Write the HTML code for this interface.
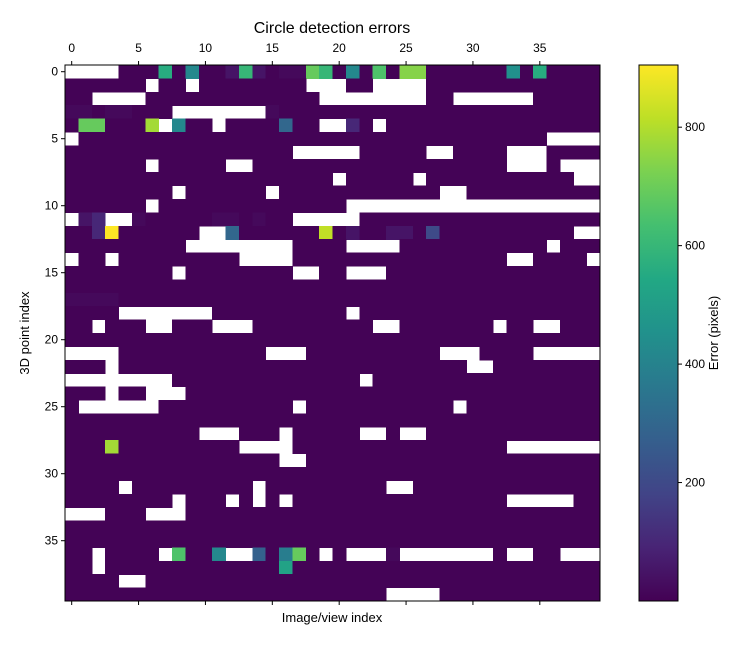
<!DOCTYPE html>
<html><head><meta charset="utf-8"><style>
html,body{margin:0;padding:0;background:#fff;}
svg text{font-family:"Liberation Sans",sans-serif;fill:#000;}
</style></head>
<body>
<svg id="chart" width="736" height="642" xmlns="http://www.w3.org/2000/svg">
<defs>
<linearGradient id="vir" x1="0" y1="1" x2="0" y2="0">
<stop offset="0" stop-color="#440154"/><stop offset="0.1" stop-color="#482475"/><stop offset="0.2" stop-color="#414487"/><stop offset="0.3" stop-color="#355f8d"/><stop offset="0.4" stop-color="#2a788e"/><stop offset="0.5" stop-color="#21918c"/><stop offset="0.6" stop-color="#22a884"/><stop offset="0.7" stop-color="#44bf70"/><stop offset="0.8" stop-color="#7ad151"/><stop offset="0.9" stop-color="#bddf26"/><stop offset="1" stop-color="#fde725"/>
</linearGradient>
</defs>
<text x="332" y="33" font-size="16" text-anchor="middle">Circle detection errors</text>
<g id="cells" shape-rendering="crispEdges"></g>
<rect x="65" y="65" width="535" height="536" fill="none" stroke="#000" stroke-width="1"/>
<g id="axes"></g>
<text x="332" y="622" font-size="13" text-anchor="middle">Image/view index</text>
<text x="29" y="333" font-size="13" text-anchor="middle" transform="rotate(-90 29 333)">3D point index</text>
<rect x="639" y="65" width="39" height="536" fill="url(#vir)" stroke="#000" stroke-width="1"/>
<g id="cbticks"></g>
<text x="718" y="333" font-size="13" text-anchor="middle" transform="rotate(-90 718 333)">Error (pixels)</text>
</svg>
<script>
// '.' = near-zero error, '#' = missing (NaN), letters = level codes
const levelCodes = ['.','a','b','c','d','e','f','g','h','i','j','k','l','m','n','o','p','q','r'];
const levelValues = [5,20,50,100,200,300,420,450,560,600,650,690,740,780,820,905,380,520,280];
const gridRows = [
"####...h.f..bib.aaki.f.j.ll......g.h....",
"......#..#........###..####.............",
"..####.............########..######.....",
"aa.aa...#######a........................",
".kk...m#f..#....e..##c.#................",
"#...................................####",
".................#####.....##....###....",
"......#.....##...................###.###",
"....................#.....#...........##",
"........#......#............##..........",
"......#..............###################",
"#bc##a.....aa.a..#####..................",
"..co......##e......n.b..bb.d..........##",
".........########....####...........#...",
"#..#.........####................##....#",
"........#........##..###................",
"........................................",
"aaaa....................................",
"....#######..........#..................",
"..#...##...###.........##.......#..##...",
"........................................",
"####...........###..........###....#####",
"...#..........................##........",
"########..............#.................",
"...#..###...............................",
".######..........#...........#..........",
"........................................",
"..........###...#.....##.##.............",
"...m.........####................#######",
"................##......................",
"........................................",
"....#.........#.........##..............",
"........#...#.#.#................#####..",
"###...###...............................",
"........................................",
"........................................",
"..#....#j..f##r.pk.#.###a#######.##..###",
"..#.............q.......................",
"....##..................................",
"........................####............"
];
const xTickValues = [0,5,10,15,20,25,30,35];
const yTickValues = [0,5,10,15,20,25,30,35];
const cbTickValues = [200,400,600,800];
const vmin = 0, vmax = 905;

const NS = "http://www.w3.org/2000/svg";
const X0 = 65, Y0 = 65, PW = 535, PH = 536, NC = 40, NR = 40;
const cw = PW / NC, ch = PH / NR;
const xPos = c => X0 + c * cw;
const yPos = r => Y0 + r * ch;
const stops = ["#440154","#482475","#414487","#355f8d","#2a788e","#21918c","#22a884","#44bf70","#7ad151","#bddf26","#fde725"];
function hex(h){return [1,3,5].map(i=>parseInt(h.substr(i,2),16));}
function viridis(v){
  let t = Math.max(0, Math.min(1, (v - vmin) / (vmax - vmin))) * 10;
  let i = Math.min(9, Math.floor(t)), f = t - i;
  let a = hex(stops[i]), b = hex(stops[i+1]);
  return "rgb(" + a.map((x,k)=>Math.round(x + (b[k]-x)*f)).join(",") + ")";
}
const cells = document.getElementById("cells");
gridRows.forEach((row, r) => {
  for (let c = 0; c < row.length; c++) {
    const ch_ = row[c];
    if (ch_ === '#') continue;
    const v = levelValues[levelCodes.indexOf(ch_)];
    const rect = document.createElementNS(NS, "rect");
    
    
    rect.setAttribute("x", xPos(c));
    rect.setAttribute("y", yPos(r));
    rect.setAttribute("width", cw + 0.6);
    rect.setAttribute("height", ch + 0.6);
    rect.setAttribute("fill", viridis(v));
    cells.appendChild(rect);
  }
});
const axes = document.getElementById("axes");
function line(x1,y1,x2,y2,name,parent){
  const l = document.createElementNS(NS,"line");
  
  
  l.setAttribute("x1",x1);l.setAttribute("y1",y1);l.setAttribute("x2",x2);l.setAttribute("y2",y2);
  l.setAttribute("stroke","#000");l.setAttribute("stroke-width","1");
  parent.appendChild(l);
}
function text(x,y,s,anchor,name,parent){
  const t = document.createElementNS(NS,"text");
  
  
  t.setAttribute("x",x);t.setAttribute("y",y);t.setAttribute("font-size","12");
  t.setAttribute("text-anchor",anchor);t.textContent=s;
  parent.appendChild(t);
}
xTickValues.forEach(v => {
  const x = xPos(v + 0.5);
  line(x, Y0, x, Y0-4, 'x-tick-top', axes);
  line(x, Y0+PH, x, Y0+PH+4, 'x-tick-bottom', axes);
  text(x, 52, String(v), "middle", 'x-tick-label', axes);
});
yTickValues.forEach(v => {
  const y = yPos(v + 0.5);
  line(X0, y, X0-4, y, 'y-tick', axes);
  text(X0-7, y+4, String(v), "end", 'y-tick-label', axes);
});
const cb = document.getElementById("cbticks");
cbTickValues.forEach(v => {
  const y = 601 - (v - vmin) / (vmax - vmin) * 536;
  line(678, y, 682, y, 'colorbar-tick', cb);
  text(685, y+4, String(v), "start", 'colorbar-tick-label', cb);
});
</script>
</body></html>
